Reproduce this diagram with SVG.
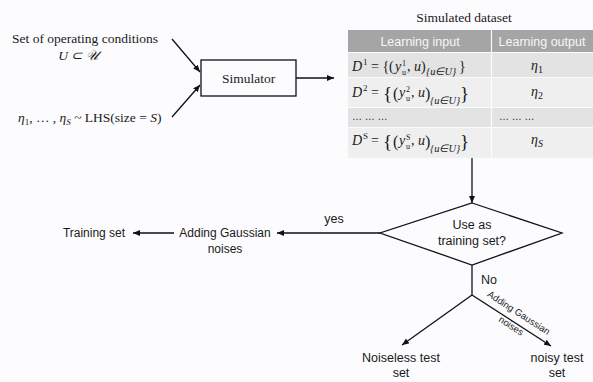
<svg xmlns="http://www.w3.org/2000/svg" width="593" height="382" viewBox="0 0 593 382">
<style>
.serif{font-family:"Liberation Serif","Times New Roman",serif;fill:#1a1a1a}
.sans{font-family:"Liberation Sans",Arial,sans-serif;fill:#1a1a1a}
.it{font-style:italic}
.ln{stroke:#111;stroke-width:1.3;fill:none}
.arr{marker-end:url(#ah)}
.hdr{fill:#a5a5a5}
.r1{fill:#e3e3e3}
.r2{fill:#efefef}
.hd{font-family:"Liberation Sans",Arial,sans-serif;fill:#f7f7f7;font-size:12.5px}
</style>
<defs>
<marker id="ah" markerWidth="7" markerHeight="6" refX="7" refY="3" orient="auto" markerUnits="userSpaceOnUse"><path d="M0,0 L7,3 L0,6 z" fill="#111"/></marker>
</defs>
<rect x="0" y="0" width="593" height="382" fill="#fcfcfe"/>

<g id="connectors">
<line class="ln arr" x1="172" y1="39" x2="200" y2="72"/>
<line class="ln arr" x1="172" y1="117" x2="200" y2="85"/>
<line class="ln arr" x1="296" y1="78" x2="334" y2="78"/>
<line class="ln arr" x1="472" y1="158" x2="472" y2="203"/>
<line class="ln arr" x1="380" y1="233" x2="277" y2="233"/>
<line class="ln arr" x1="174" y1="233" x2="133" y2="233"/>
<line class="ln" x1="472" y1="265" x2="472" y2="295"/>
<line class="ln arr" x1="472" y1="295" x2="402" y2="345"/>
<line class="ln arr" x1="472" y1="295" x2="551" y2="346"/>
<text class="sans" x="334" y="223" font-size="12.5" text-anchor="middle">yes</text>
<text class="sans" x="481" y="284" font-size="12.5">No</text>
<text class="sans" font-size="9.5" text-anchor="middle" transform="translate(517,315.5) rotate(33)">Adding Gaussian</text>
<text class="sans" font-size="9.5" text-anchor="middle" transform="translate(509.5,328.5) rotate(33)">noises</text>
</g>

<g id="operating-conditions">
<text class="serif" x="85" y="43" font-size="13.5" text-anchor="middle">Set of operating conditions</text>
<text class="serif it" x="78" y="60" font-size="13.5" text-anchor="middle">U ⊂ 𝒰</text>
</g>

<g id="lhs">
<text class="serif" x="18" y="122" font-size="13.5"><tspan class="it">η</tspan><tspan font-size="9" dy="3">1</tspan><tspan dy="-3">, … , </tspan><tspan class="it">η</tspan><tspan class="it" font-size="9" dy="3">S</tspan><tspan dy="-3"> ~ LHS(size = </tspan><tspan class="it">S</tspan>)</text>
</g>

<g id="simulator">
<rect x="201" y="60" width="95" height="36" fill="none" stroke="#111" stroke-width="1.3"/>
<text class="serif" x="248.5" y="82.5" font-size="13.5" text-anchor="middle">Simulator</text>
</g>

<g id="dataset">
<text class="serif" x="464" y="22" font-size="13.5" text-anchor="middle">Simulated dataset</text>
<rect class="hdr" x="348" y="30" width="245" height="22"/>
<rect class="r1" x="348" y="53" width="245" height="24"/>
<rect class="r2" x="348" y="78" width="245" height="29"/>
<rect class="r1" x="348" y="108" width="245" height="19"/>
<rect class="r2" x="348" y="128" width="245" height="30"/>
<line x1="491.5" y1="30" x2="491.5" y2="158" stroke="#fcfcfe" stroke-width="1.2"/>
<text class="hd" x="420" y="46" text-anchor="middle">Learning input</text>
<text class="hd" x="542" y="46" text-anchor="middle">Learning output</text>

<text class="serif" font-size="14" y="71"><tspan class="it" x="352">D</tspan><tspan x="363" y="65" font-size="9">1</tspan><tspan x="371" y="71">= {(</tspan><tspan class="it" x="395" y="71">y</tspan><tspan x="402" y="65.5" font-size="8">1</tspan><tspan x="402" y="74.5" font-size="8">u</tspan><tspan x="407" y="71">, </tspan><tspan class="it">u</tspan><tspan>)</tspan><tspan class="it" x="426" y="75" font-size="10.5">{u∈U}</tspan><tspan x="459" y="71">}</tspan></text>

<text class="serif" font-size="14" y="97"><tspan class="it" x="352">D</tspan><tspan x="363" y="91" font-size="9">2</tspan><tspan x="371" y="97">=</tspan><tspan x="383" y="99.5" font-size="19">{</tspan><tspan x="393" y="98.5" font-size="16">(</tspan><tspan class="it" x="399" y="97">y</tspan><tspan x="406" y="91.5" font-size="8">2</tspan><tspan x="406" y="100.5" font-size="8">u</tspan><tspan x="411" y="97">, </tspan><tspan class="it">u</tspan><tspan font-size="16" y="98.5">)</tspan><tspan class="it" x="430" y="104" font-size="10.5">{u∈U}</tspan><tspan x="460" y="99.5" font-size="19">}</tspan></text>

<text class="sans" x="352" y="120" font-size="10">… … …</text>
<text class="sans" x="499" y="120" font-size="10">… … …</text>

<text class="serif" font-size="14" y="145"><tspan class="it" x="352">D</tspan><tspan x="363" y="139" font-size="9">S</tspan><tspan x="371" y="145">=</tspan><tspan x="383" y="147.5" font-size="19">{</tspan><tspan x="393" y="146.5" font-size="16">(</tspan><tspan class="it" x="399" y="145">y</tspan><tspan x="406" y="139.5" font-size="8">S</tspan><tspan x="406" y="148.5" font-size="8">u</tspan><tspan x="411" y="145">, </tspan><tspan class="it">u</tspan><tspan font-size="16" y="146.5">)</tspan><tspan class="it" x="430" y="152" font-size="10.5">{u∈U}</tspan><tspan x="460" y="147.5" font-size="19">}</tspan></text>

<text class="serif" x="537" y="70" font-size="14" text-anchor="middle"><tspan class="it">η</tspan><tspan font-size="10" dy="3">1</tspan></text>
<text class="serif" x="537" y="96" font-size="14" text-anchor="middle"><tspan class="it">η</tspan><tspan font-size="10" dy="3">2</tspan></text>
<text class="serif" x="537" y="144" font-size="14" text-anchor="middle"><tspan class="it">η</tspan><tspan class="it" font-size="10" dy="3">S</tspan></text>
</g>

<g id="decision">
<polygon points="472,203 562,233 472,265 380,233" fill="none" stroke="#111" stroke-width="1.3"/>
<text class="sans" x="472" y="229" font-size="12.5" text-anchor="middle">Use as</text>
<text class="sans" x="472" y="245" font-size="12.5" text-anchor="middle">training set?</text>
</g>

<g id="adding-noise">
<text class="sans" x="225" y="237" font-size="12" text-anchor="middle">Adding Gaussian</text>
<text class="sans" x="225" y="253" font-size="12" text-anchor="middle">noises</text>
</g>

<g id="training-set">
<text class="sans" x="94" y="237" font-size="12" text-anchor="middle">Training set</text>
</g>

<g id="noiseless-test">
<text class="sans" x="401" y="362" font-size="12.5" text-anchor="middle">Noiseless test</text>
<text class="sans" x="401" y="377" font-size="12.5" text-anchor="middle">set</text>
</g>

<g id="noisy-test">
<text class="sans" x="557" y="362" font-size="12.5" text-anchor="middle">noisy test</text>
<text class="sans" x="557" y="377" font-size="12.5" text-anchor="middle">set</text>
</g>
</svg>
